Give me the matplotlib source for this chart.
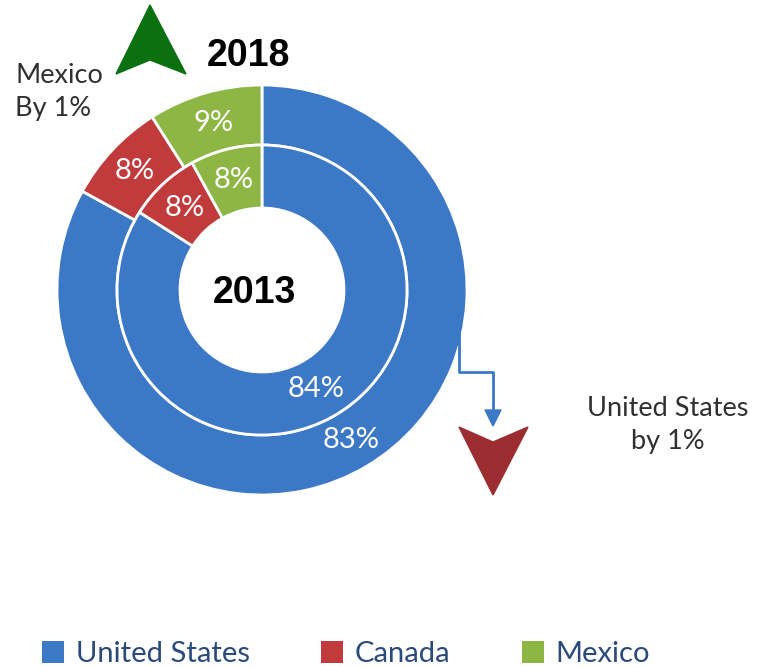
import numpy as np
import matplotlib.pyplot as plt
from matplotlib.patches import Polygon, Patch

countries = ['United States', 'Canada', 'Mexico']
share_2013 = [84, 8, 8]
share_2018 = [83, 8, 9]
colors = ['#3B78C6', '#C23B3C', '#8DB644']

W, H = 766, 667
fig = plt.figure(figsize=(W / 100, H / 100), dpi=100)
ax = fig.add_axes([0, 0, 1, 1])

cx, cy = 262, H - 290
r_out, r_mid, r_in = 205, 145, 82

txt = dict(color='white', fontsize=21, family='Lato')
wedge = dict(edgecolor='white', linewidth=2)

# outer ring 2018
ax.pie(share_2018, colors=colors, radius=r_out, center=(cx, cy), startangle=90,
       counterclock=False, autopct='%d%%', pctdistance=0.85,
       wedgeprops=dict(width=r_out - r_mid, **wedge), textprops=txt, frame=True)
# inner ring 2013
ax.pie(share_2013, colors=colors, radius=r_mid, center=(cx, cy), startangle=90,
       counterclock=False, autopct='%d%%', pctdistance=0.78,
       wedgeprops=dict(width=r_mid - r_in, **wedge), textprops=txt, frame=True)
ax.set_xlim(0, W)
ax.set_ylim(0, H)
ax.set_aspect('equal')
ax.axis('off')

ax.text(248, H - 56, '2018', fontsize=27, fontweight='bold', family='Liberation Sans',
        ha='center', va='center')
ax.text(254, H - 293, '2013', fontsize=27, fontweight='bold', family='Liberation Sans',
        ha='center', va='center')

ax.text(15, H - 92, 'Mexico\nBy 1%', fontsize=19.5, family='Lato', color='#303030',
        ha='left', va='center', linespacing=1.4)
ax.text(668, H - 425, 'United States\nby 1%', fontsize=19.5, family='Lato', color='#303030',
        ha='center', va='center', linespacing=1.4)

# green up arrow and red down arrow
ax.add_patch(Polygon([(150, H - 5), (186, H - 74), (150, H - 60), (116, H - 74)],
                     closed=True, color='#0A7010'))
ax.add_patch(Polygon([(493, H - 495), (528, H - 427), (493, H - 442), (459, H - 427)],
                     closed=True, color='#9B2D30'))

# connector from the ring to the red arrow
ax.plot([459, 459, 493, 493], [H - 318, H - 372, H - 372, H - 412],
        color='#3B78C6', linewidth=2)
ax.add_patch(Polygon([(485, H - 410), (501, H - 410), (493, H - 426)],
                     closed=True, color='#3B78C6'))

handles = [Patch(facecolor=c, edgecolor='none') for c in colors]
leg = fig.legend(handles, countries, loc='center', bbox_to_anchor=(0.452, 1 - 654 / H),
                 ncol=3, frameon=False, prop=dict(family='Lato', size=21),
                 handlelength=0.75, handleheight=0.75, handletextpad=0.4,
                 columnspacing=2.45)
for t in leg.get_texts():
    t.set_color('#2A4A7A')

fig.savefig('out.png', dpi=100)
